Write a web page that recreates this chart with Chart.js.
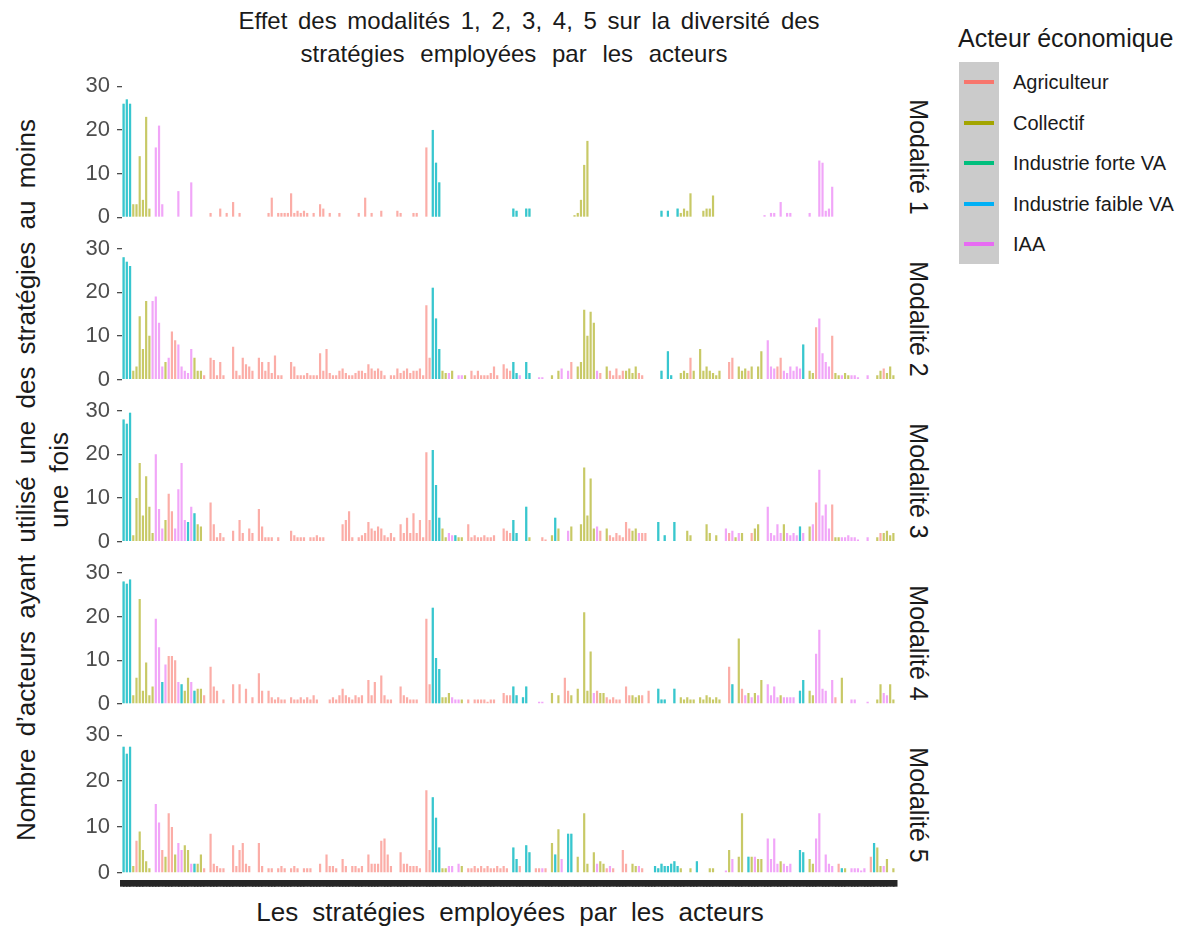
<!DOCTYPE html>
<html><head><meta charset="utf-8">
<script src="https://cdn.jsdelivr.net/npm/chart.js@4.4.0/dist/chart.umd.min.js"></script>
<style>
body{margin:0;background:#fff;width:1184px;height:926px;position:relative;overflow:hidden;font-family:"Liberation Sans",Arial,sans-serif;color:#1a1a1a;}
canvas{position:absolute;left:0;}
.t{position:absolute;white-space:nowrap;}
.rot{position:absolute;white-space:nowrap;transform:translate(-50%,-50%) rotate(90deg);}
.rotl{position:absolute;white-space:nowrap;transform:translate(-50%,-50%) rotate(-90deg);text-align:center;}
</style></head><body>
<div class="t" id="title1" style="left:529px;top:21px;transform:translate(-50%,-50%);font-size:24px;word-spacing:4px;">Effet des modalités 1, 2, 3, 4, 5 sur la diversité des</div>
<div class="t" id="title2" style="left:514px;top:54px;transform:translate(-50%,-50%);font-size:24px;word-spacing:9px;">stratégies employées par les acteurs</div>
<div class="rotl" style="left:43px;top:480px;font-size:26px;word-spacing:5px;line-height:33px;">Nombre d’acteurs ayant utilisé une des stratégies au moins<br>une fois</div>
<div class="t" style="left:510px;top:912px;transform:translate(-50%,-50%);font-size:26px;word-spacing:7px;">Les stratégies employées par les acteurs</div>
<div id="legend"></div>
<div id="strips"></div>
<div id="charts"></div>
<script>
// ---- data ----
const N = 240;
const strategies = Array.from({length: N}, (_, i) => 'Stratégie ' + (i + 1));
const actorNames = ['Agriculteur', 'Collectif', 'Industrie forte VA', 'Industrie faible VA', 'IAA'];
const actorCodes = ['a', 'c', 'f', 'b', 'i']; // 't' = Industrie forte VA + faible VA together
const actorColors = ['#F8766D', '#A3A500', '#00BF7D', '#00B0F6', '#E76BF3'];
const actorAlpha = [0.6, 0.6, 0.6, 0.45, 0.6];
const actorOrder = [3, 4, 2, 1, 5];
const facetNames = ['Modalité 1', 'Modalité 2', 'Modalité 3', 'Modalité 4', 'Modalité 5'];
const yTicks = [0, 10, 20, 30];

const m1Values = [
26,27,26,3,3,14,4,23,2,0, 16,21,3,0,0,0,0,6,0,0, 0,8,0,0,0,0,0,1,0,0, 2,0,1,0,3.5,0,1,0,0,0,
0,0,0,0,0,1,4.5,0,1,1, 1,1,5.5,1,1.5,1,1.5,1,0,1, 0,3,2,0,1,0,0,1,0,0, 0,0,0,1,0,4.5,0,1,0,0,
1.5,0,0,0,0,1.5,1,0,0,0, 1,1,0,0,16,0,20,12.5,8,0, 0,0,0,0,0,0,0,0,0,0, 0,0,0,0,0,0,0,0,0,0,
0,2,1.5,0,0,2,2,0,0,0, 0,0,0,0,0,0,0,0,0,0, 0.5,1,4,12,17.5,0,0,0,0,0, 0,0,0,0,0,0,0,0,0,0,
0,0,0,0,0,0,0,1.5,0,1.5, 0,0,2,1,2,1.5,5.5,0,0,0, 1.5,2,2,5,0,0,0,0,0,0, 0,0,0,0,0,0,0,0,0,0.5,
0,1,1,0,3.5,0,1,1,0,0, 0,0,0,1,0,0,13,12.5,1.5,2, 7,0,0,0,0,0,0,0,0,0, 0,0,0,0,0,0,0,0,0,0];
const m1Actors = ["tttcccccc.","iii....i..",".i.....a..","a.a.a.a...",".....aa.aa","aaaaaaaa.a",".aa.a..a..","...a.a.a..",
"a....aa...","aa..a.ttt.","..........","..........",".tt..tt...","..........","ccccc.....","..........",
".......t.t","..tcccc...","cccc......",".........i",".ii.i.ii..","...i..iiii","i.........",".........."].join('');

const m2Values = [
28,27,26,2,3,14.5,7,18,10,18, 19,13,3,4,5,11,9,8,3,2, 1.5,7,5,2,2,1,0,5,4.5,1, 4,1,0,0,7.5,2,1,5,3.5,3,
2,0,5,4,2,4,1.5,5.5,1,1, 0,0,4,3,1,1,1,1.5,1,1, 1,6,2,7,1.5,1,1,2,2.5,1.5, 1,1,1.5,2,2,1.5,3.5,2.5,2,2.5,
2,1,0,1,1,2.5,1.5,2,2.5,1.5, 2,2,2.5,1,17,5,21,14,7,2, 1.5,1.5,2,0,1,1,1,0,2,1, 2,1,1,1,1.5,3,1,0,3.5,2.5,
2,4,1.5,1,0,4,1.5,0,0,0.5, 0.5,0,0,1,0,2,2.5,0,2,4, 0,3,4,16,10,15.5,13,2,1.5,0, 3,2,1,2.5,1,2,2,2.5,1.5,3,
1.5,1,0,0,0,0,0,2,0,6.5, 1,0,0,1.5,2,1.5,5,2,0,7, 2,3,2,1.5,1,2,0,0,4,5, 0,3,2,2.5,2,3,0,3,6.5,0,
9,3,2.5,3,5,2,1.5,3,2,3, 2.5,8,0,2,1.5,12,14,6,4,3, 10,1.5,1,1,1.5,1,1,1,0.5,0, 0,1,0,0,1,2,2.5,1.5,3,1];
const m2Actors = ["tttcccccci","iiiciaaiii","iiccca.aaa","aa..aaaaaa","a.aaaaaaaa","..aaaaaaaa","aaaaaaaaaa","aaaaaaaaaa",
"aa.aaaaaaa","aaaaaatttc","cic.iic.aa","aaaaaaa.aa","atti.tt..i","i..c.ci.ia",".ccccccia.","caaaaacccc",
"aa.....t.t","t..cccac.c","cccccc..aa",".cccac.cc.","iiiaaiiiii","it.ccaiiii","accicciii.",".i..ccaccc"].join('');

const m3Values = [
28,27,29.5,1.5,10,18,6,15,8,2, 20,7.5,3,5,11,7,3,12,18,5, 4.5,8,6.5,4,3.5,0,0,9,4,1, 2,1,0,0,2.5,0,5,2,0,3,
2,0,7.5,3.5,1,1,1,0,1,0, 0,0,2.5,1.5,1,1,1,0,1,1, 1.5,1,1,0,0,0,0,0,4,5, 7,1,0,1,1.5,2,4.5,3,2.5,3.5,
3,1.5,1,2,1,0,4,2,5.5,2, 6.5,2,5,1,20.5,5,21,13,5.5,3, 1,2,1.5,1.5,1,1,0,4,1,1.5, 1,1,1.5,1,1,1.5,0,0,3,2.5,
2,5,2,0,0,8,1,0,0,0, 1,0.5,0,1.5,5.5,3,0,0,2.5,3.5, 0,0,4,17,6,14.5,3,3.5,2.5,0, 3,1.5,1,2,1.5,1,4.5,3,2.5,3,
2,2,2,0,0,0,4.5,0,1.5,0, 0,4.5,0,0,0,2.5,1.5,0,0,0, 0,4,2,0,1.5,0,0,3,2,2.5, 1,2,2,0,0,2,3,4,0,0,
8,2,1.5,4,2,4,2,1.5,2,1.5, 3.5,2,0,3.5,4,9,16.5,6,8.5,3, 8.5,1,1,1,1,1.5,1,1,0.5,0, 0,1,0,0,1,2,2,2.5,1.5,2];
const m3Actors = ["tttccccccc","iiicaaiiii","titcc..aaa","aa..a.aa.a","a.aaaaa.a.","..aaaaa.aa","aaa.....aa","aa.aaaaaaa",
"aaaaa.aaaa","aaaaaatttc","ciitcc.aaa","aaaaaa..aa","att..tc...","aa.ctc..ic","..cccccia.","caaaaaaacc",
"iaa...t.t.",".t...cc...",".cc.c..iai","cic..acc..","iiiiiciiii","ti.ciaiiii","acciiiiii.",".i..cacccc"].join('');

const m4Values = [
28,27.5,28.5,2,6,24,3,9.5,2,4, 19.5,13,5,9,11,11,10,5,4.5,3, 6,5,3,3.5,3.5,2,0,8.5,4,3, 0,1,0,0,4.5,0,4.5,0,3.5,0,
1.5,0,7,3,0,3,1.5,1,1.5,1, 1,0,1.5,1,1,1.5,1,1.5,1,2, 1,0,0,0,1,1.5,1,2,3.5,2, 1.5,1,2,1.5,2,0,5.5,2,5,0,
6.5,2,1,1,0,0,4,2,1.5,1, 1,1,0,0,19.5,4.5,22,10.5,8,1.5, 1.5,2.5,1.5,1,1,1,0,1,0,1, 1,1,1,0.5,1,1,0,0,2.5,2,
2,4,2,0,1.5,4,0,0,0,0.5, 0.5,0,0,2.5,0,2,0,6,3,2, 0,3.5,0,21,3,12,2.5,3,2.5,2.5, 1.5,1,1.5,1,1,0,4,2,2,1.5,
2,2,0,3,0,0,3.5,1,1,0, 0,3.5,0,1.5,1,1.5,1,1,0,1.5, 1,2,1.5,1,1.5,1,0,0,8.5,4.5, 0,15,3.5,2,2.5,1.5,2.5,2,5.5,0,
4.5,2,4,1.5,2,1.5,1.5,1.5,1.5,0, 3,5.5,0,3,2,11.5,17,3.5,3,0, 5.5,1.5,0,6,0,0,1,1,0,0, 0,0.5,0,0,1,4.5,2.5,2,4.5,1];
const m4Actors = ["tttccccccc","iitiaaaitc","citcca.aaa",".a..a.a.a.","a.aa.aaaaa","a.aaaaaaaa","a...aaaaaa","aaaaa.aaa.",
"aaaa..aaaa","aa..aatttc","cciiic.a.a","aaaaaa..aa","att.tt...i","i..c.c.aac",".c.ccciacc","aaaaa.aacc",
"ca.a..ttt.",".t.ccccc.c","cccccc..at",".caicicic.","iiiiciiii.","tt.cciiii.","ia.c..ii..",".i..cciicc"].join('');

const m5Values = [
27.5,26,27.5,1.5,7,9,5,2.5,1,0, 15,11,5,3.5,13,10,4,6.5,5,6, 5,2,2,2,4,1,0,8.5,2,1.5, 1,1,0,0,6,1.5,5,6.5,2,1.5,
0,0,6.5,1.5,0,1,1,0,1,1.5, 1,0,1,1.5,1,0,1,1,1,0, 0,2,0,4,1.5,1.5,1,0,3,1.5, 0,1.5,1.5,1,1.5,0,4,2,2,2,
7,7.5,4,1.5,0,0,4.5,2,2,1.5, 1.5,1.5,1,0,18,5,16.5,12,5.5,1, 1,1.5,1.5,0,2,1.5,0,1,1,1.5, 1,1.5,1,1.5,1,1,1.5,1,1.5,1,
0,5.5,3,1.5,0,6,4.5,0,1,1, 1,1,0,6.5,4,9.5,3,0,8.5,8.5, 0,3.5,0,13,2,0,4.5,2,2.5,2, 1,1.5,1,0,0,5,2,0,2,1.5,
1.5,1,0,0,0,1.5,1,2,1.5,1.5, 2,2.5,1.5,1,0,0,1,0,2.5,0, 0,0,1,1,0,0,0,0.5,5,3, 0,3.5,13,0,3.5,3.5,3.5,3,3,0,
7.5,3,7.5,2,2.5,2,1.5,2,0,0, 5,4.5,0,3,2,7.5,13,0,4,2, 1.5,0,2,1,1,0,1,1,1,0.5, 1,0,3.5,6.5,5.5,1.5,1.5,3,0,1];
const m5Actors = ["tttcacccc.","iiacaaciic","citcca.aaa","aa..aaaaaa","..aa.aa.aa","a.aaa.aaa.",".a.aaaa.aa",".aaaa.aaaa",
"aaaa..aaaa","aaa.aatttc","cii.ic.aaa","aaaaaaaaaa",".tta.tt.aa","ia.ctci.tt",".c.cc.cicc","aia..aa.cc",
"ia...ttttt","tttc..c.t.","..cc...ici",".cc.tcicc.","iiiiciii..","tt.ccii.ii","i.atc.iiii","i.atccic.c"].join('');

const facets = [
  {values: m1Values, actors: m1Actors},
  {values: m2Values, actors: m2Actors},
  {values: m3Values, actors: m3Actors},
  {values: m4Values, actors: m4Actors},
  {values: m5Values, actors: m5Actors}
];

// ---- helpers ----
function rgba(hex, a) {
  const n = parseInt(hex.slice(1), 16);
  return 'rgba(' + (n >> 16) + ',' + ((n >> 8) & 255) + ',' + (n & 255) + ',' + a + ')';
}
function seriesFor(f, code) {
  return f.values.map((v, i) => {
    const c = f.actors[i];
    const hit = c === code || (c === 't' && (code === 'f' || code === 'b'));
    return hit && v > 0 ? v : null;
  });
}

// ---- layout geometry ----
const Y0_FIRST = 224, FACET_STEP = 162.2, PX_PER_UNIT = 137.5 / 30;
const Y_MIN = -1.5, Y_MAX = 31;

const chartsDiv = document.getElementById('charts');
const stripsDiv = document.getElementById('strips');

facets.forEach((f, k) => {
  const y0 = Y0_FIRST + FACET_STEP * k;
  const areaTop = y0 - Y_MAX * PX_PER_UNIT;
  const areaH = (Y_MAX - Y_MIN) * PX_PER_UNIT;
  const isLast = k === facets.length - 1;
  const xH = isLast ? 7 : 0;
  const cTop = Math.floor(areaTop - 20);
  const padT = areaTop - cTop;
  const padB = isLast ? 16 : 20;
  const cH = Math.ceil(padT + areaH + xH + padB);
  const padBreal = cH - padT - areaH - xH;

  const cv = document.createElement('canvas');
  cv.width = 900; cv.height = cH;
  cv.style.top = cTop + 'px';
  cv.style.width = '900px'; cv.style.height = cH + 'px';
  chartsDiv.appendChild(cv);

  new Chart(cv.getContext('2d'), {
    type: 'bar',
    data: {
      labels: strategies,
      datasets: actorCodes.map((code, j) => ({
        label: actorNames[j],
        data: seriesFor(f, code),
        backgroundColor: rgba(actorColors[j], actorAlpha[j]),
        borderWidth: 0,
        grouped: false,
        order: actorOrder[j],
        barPercentage: 0.68,
        categoryPercentage: 1
      }))
    },
    options: {
      responsive: false,
      animation: false,
      devicePixelRatio: 1,
      layout: {padding: {top: padT, bottom: padBreal, left: 0, right: 5}},
      plugins: {legend: {display: false}, tooltip: {enabled: false}},
      scales: {
        x: {
          display: isLast,
          offset: true,
          grid: {display: true, drawOnChartArea: false, drawTicks: true, tickLength: 7, color: '#262626', lineWidth: 4.5},
          border: {display: false},
          ticks: {display: false, autoSkip: false},
          afterFit: s => { s.height = 7; }
        },
        y: {
          min: Y_MIN, max: Y_MAX, bounds: 'data',
          afterBuildTicks: s => { s.ticks = yTicks.map(v => ({value: v})); },
          afterFit: s => { s.width = 122; },
          grid: {drawOnChartArea: false, drawTicks: true, tickLength: 5, color: '#4d4d4d', lineWidth: 1.3},
          border: {display: false},
          ticks: {color: '#4d4d4d', padding: 7, font: {size: 22, family: 'Liberation Sans'}}
        }
      }
    }
  });

  const s = document.createElement('div');
  s.className = 'rot';
  s.style.left = '918px';
  s.style.top = (y0 - 67.5) + 'px';
  s.style.fontSize = '25px';
  s.textContent = facetNames[k];
  stripsDiv.appendChild(s);
});

// ---- legend ----
const lg = document.getElementById('legend');
let html = '<div class="t" style="left:958px;top:38px;transform:translateY(-50%);font-size:25px;">Acteur économique</div>';
html += '<div style="position:absolute;left:959px;top:62px;width:40px;height:202px;background:#cbcbcb;"></div>';
actorNames.forEach((name, j) => {
  const cy = 82 + 40.5 * j;
  html += '<div style="position:absolute;left:964px;top:' + (cy - 2) + 'px;width:30px;height:4px;background:' + actorColors[j] + ';"></div>';
  html += '<div class="t" style="left:1013px;top:' + cy + 'px;transform:translateY(-50%);font-size:20px;">' + name + '</div>';
});
lg.innerHTML = html;
</script>
</body></html>
